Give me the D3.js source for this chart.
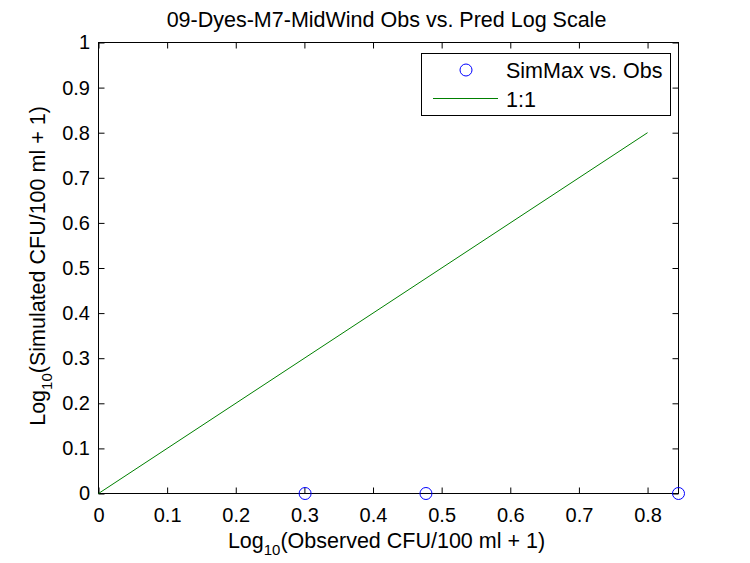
<!DOCTYPE html>
<html><head><meta charset="utf-8">
<script src="https://cdn.jsdelivr.net/npm/d3@7"></script>
<style>body{margin:0;background:#fff}svg{display:block}text{font-family:"Liberation Sans",Arial,sans-serif;fill:#000}</style>
</head><body>
<svg id="c" width="750" height="563"></svg>
<script>
const title = "09-Dyes-M7-MidWind Obs vs. Pred Log Scale";
const observed = [0.30103, 0.47712, 0.84510];
const simulated = [0, 0, 0];
const oneToOneX = [0, 0.8];
const oneToOneY = [0, 0.8];
const xTicks = [0, 0.1, 0.2, 0.3, 0.4, 0.5, 0.6, 0.7, 0.8];
const yTicks = [0, 0.1, 0.2, 0.3, 0.4, 0.5, 0.6, 0.7, 0.8, 0.9, 1];
const legendLabels = ["SimMax vs. Obs", "1:1"];

const svg = d3.select("#c");
const L = 98.5, R = 678.5, T = 42.5, B = 493.5;
const x = d3.scaleLinear().domain([0, d3.max(observed)]).range([L, R]);
const y = d3.scaleLinear().domain([0, 1]).range([B, T]);
const fmt = d => d === 0 ? "0" : d3.format("")(+d.toFixed(1));
const tl = 6;
const tickFont = 20, textFont = 21.5;

// axes
svg.append("g").attr("transform", `translate(0,${B})`)
  .call(d3.axisBottom(x).tickValues(xTicks).tickFormat(fmt).tickSizeInner(-tl).tickSizeOuter(0).tickPadding(14))
  .call(g => { g.select(".domain").remove(); g.selectAll("text").attr("font-size", tickFont); });
svg.append("g").attr("transform", `translate(0,${T})`)
  .call(d3.axisTop(x).tickValues(xTicks).tickFormat("").tickSizeInner(-tl).tickSizeOuter(0))
  .call(g => g.select(".domain").remove());
svg.append("g").attr("transform", `translate(${L},0)`)
  .call(d3.axisLeft(y).tickValues(yTicks).tickFormat(fmt).tickSizeInner(-tl).tickSizeOuter(0).tickPadding(8.5))
  .call(g => { g.select(".domain").remove(); g.selectAll("text").attr("font-size", tickFont); });
svg.append("g").attr("transform", `translate(${R},0)`)
  .call(d3.axisRight(y).tickValues(yTicks).tickFormat("").tickSizeInner(-tl).tickSizeOuter(0))
  .call(g => g.select(".domain").remove());
svg.selectAll(".tick line").attr("stroke", "#000");
svg.append("rect").attr("x", L).attr("y", T).attr("width", R - L).attr("height", B - T)
  .attr("fill", "none").attr("stroke", "#000");

// 1:1 line
svg.append("line")
  .attr("x1", x(oneToOneX[0])).attr("y1", y(oneToOneY[0]))
  .attr("x2", x(oneToOneX[1])).attr("y2", y(oneToOneY[1]))
  .attr("stroke", "#008000").attr("stroke-width", 1);

// points
svg.selectAll("circle.pt").data(observed).join("circle").attr("class", "pt")
  .attr("cx", d => x(d)).attr("cy", (d, i) => y(simulated[i])).attr("r", 6)
  .attr("fill", "none").attr("stroke", "#0000ff").attr("stroke-width", 1);

// title
svg.append("text").attr("x", (L + R) / 2 - 2).attr("y", 27).attr("text-anchor", "middle")
  .attr("font-size", textFont).text(title);

// x label
const xl = svg.append("text").attr("x", (L + R) / 2 - 2).attr("y", 548).attr("text-anchor", "middle").attr("font-size", textFont);
xl.append("tspan").text("Log");
xl.append("tspan").attr("font-size", 15).attr("dy", 7).text("10");
xl.append("tspan").attr("dy", -7).text("(Observed CFU/100 ml + 1)");

// y label
const yl = svg.append("text").attr("transform", `translate(45,${(T + B) / 2 - 2}) rotate(-90)`)
  .attr("text-anchor", "middle").attr("font-size", textFont);
yl.append("tspan").text("Log");
yl.append("tspan").attr("font-size", 15).attr("dy", 7).text("10");
yl.append("tspan").attr("dy", -7).text("(Simulated CFU/100 ml + 1)");

// legend
const lg = svg.append("g");
lg.append("rect").attr("x", 421.5).attr("y", 53.5).attr("width", 249).attr("height", 62)
  .attr("fill", "#fff").attr("stroke", "#000");
lg.append("circle").attr("cx", 466).attr("cy", 70).attr("r", 6)
  .attr("fill", "none").attr("stroke", "#0000ff");
lg.append("line").attr("x1", 433).attr("x2", 498).attr("y1", 98.5).attr("y2", 98.5)
  .attr("stroke", "#008000");
lg.selectAll("text.lt").data(legendLabels).join("text").attr("class", "lt")
  .attr("x", 506).attr("y", (d, i) => 78 + i * 29).attr("font-size", textFont).text(d => d);
</script>
</body></html>
